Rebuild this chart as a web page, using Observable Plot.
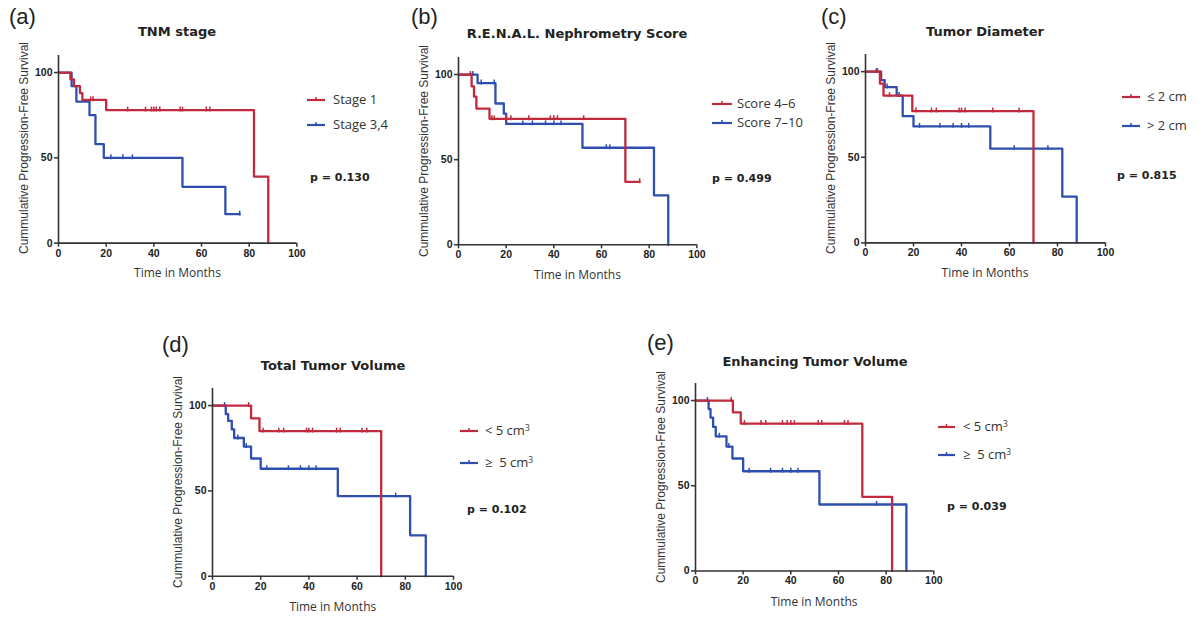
<!DOCTYPE html>
<html><head><meta charset="utf-8">
<script src="https://cdn.jsdelivr.net/npm/d3@7"></script>
<script src="https://cdn.jsdelivr.net/npm/@observablehq/plot@0.6"></script>
<style>
body{margin:0;background:#fff;}
#root{position:relative;width:1204px;height:618px;overflow:hidden;background:#fff;}
.t{position:absolute;white-space:nowrap;line-height:1.2;transform:translateY(-50%);color:#222;}
.letter{font-family:"Liberation Sans",sans-serif;font-size:22px;color:#222;}
.title{font-family:"DejaVu Sans",sans-serif;font-weight:bold;font-size:13px;transform:translate(-50%,-50%);}
.xlab{font-family:"Open Sans",sans-serif;font-size:12px;transform:translate(-50%,-50%);color:#333;}
.ylab{font-family:"Liberation Sans",sans-serif;font-size:12px;transform:translate(-50%,-50%) rotate(-90deg);color:#333;}
.leg{font-family:"Open Sans",sans-serif;font-size:13px;color:#333;}
.pv{font-family:"DejaVu Sans",sans-serif;font-weight:bold;font-size:11px;}
.plot{position:absolute;}
.legsw{position:absolute;}
sup{font-size:0.65em;vertical-align:0.55em;line-height:0;}
</style>
</head><body><div id="root"></div>
<script>
// ---------- DATA ----------
const xTicks = [0, 20, 40, 60, 80, 100];
const yTicks = [0, 50, 100];
const panelLetters = ["(a)", "(b)", "(c)", "(d)", "(e)"];
const panelTitles = ["TNM stage", "R.E.N.A.L. Nephrometry Score", "Tumor Diameter", "Total Tumor Volume", "Enhancing Tumor Volume"];
const pValues = ["p = 0.130", "p = 0.499", "p = 0.815", "p = 0.102", "p = 0.039"];
const xLabel = "Time in Months";
const yLabel = "Cummulative Progression-Free Survival";
const legendRed = ["Stage 1", "Score 4–6", "≤ 2 cm", "< 5 cm<sup>3</sup>", "< 5 cm<sup>3</sup>"];
const legendBlue = ["Stage 3,4", "Score 7–10", "> 2 cm", "≥&nbsp; 5 cm<sup>3</sup>", "≥&nbsp; 5 cm<sup>3</sup>"];

// (a) TNM stage
const aRedTime = [0, 5, 6.5, 9, 10, 20, 82, 88];
const aRedSurv = [100, 96, 92, 88, 84, 78, 39, 0];
const aRedCens = [13.5, 14.5, 29, 36.5, 39, 40, 41, 42.5, 51, 52, 62, 63.5];
const aBlueTime = [0, 5.5, 7.5, 13, 15.5, 19, 52, 70, 76];
const aBlueSurv = [100, 92, 83, 75, 58, 50, 33, 17, 17];
const aBlueCens = [22, 27, 31, 76];
// (b) R.E.N.A.L.
const bRedTime = [0, 5.5, 6.5, 7.5, 13, 70, 76];
const bRedSurv = [100, 93, 87, 80, 74, 37, 37];
const bRedCens = [5, 14, 15, 20, 22, 29.5, 38.5, 40, 41.5, 52.5, 76];
const bBlueTime = [0, 8, 15.5, 19, 20, 52, 82, 88];
const bBlueSurv = [100, 95, 83, 77, 71, 57, 29, 0];
const bBlueCens = [6, 9.5, 15, 27, 31, 36.5, 40, 43, 62, 63.5];
// (c) Tumor diameter
const cRedTime = [0, 6, 7.5, 19.5, 70];
const cRedSurv = [100, 93, 86, 77, 0];
const cRedCens = [5, 10, 21, 27.5, 29.5, 39, 40, 41.5, 53, 64];
const cBlueTime = [0, 6.5, 8, 13, 15.5, 20, 52, 82, 88];
const cBlueSurv = [100, 95, 91, 86, 74, 68, 55, 27, 0];
const cBlueCens = [4.5, 9, 14, 22.5, 31, 36.5, 40, 43, 62, 76];
// (d) Total tumor volume
const dRedTime = [0, 16, 19.5, 70];
const dRedSurv = [100, 92.5, 85, 0];
const dRedCens = [15, 21, 27.5, 29.5, 39, 40, 41.5, 51.5, 53, 62, 64];
const dBlueTime = [0, 5.5, 6.5, 8, 9, 13, 16, 20, 52, 82, 88.5];
const dBlueSurv = [100, 95, 91, 86, 81, 76, 69, 63, 47, 24, 0];
const dBlueCens = [5, 10.5, 14, 22.5, 31.5, 36.5, 40, 43, 76];
// (e) Enhancing tumor volume
const eRedTime = [0, 15.7, 19, 70, 82.5];
const eRedSurv = [100, 93, 86.5, 43.5, 0];
const eRedCens = [15, 20.5, 27.5, 29.5, 36.5, 38.5, 40, 41.5, 51.5, 53, 62.5, 64];
const eBlueTime = [0, 5.5, 6.3, 7.4, 8.5, 13, 15.5, 20, 52, 88.5];
const eBlueSurv = [100, 95, 90, 84.5, 79, 73, 66, 58.5, 39, 0];
const eBlueCens = [5, 10, 14, 22.5, 31.5, 36.5, 40, 43, 76];

// ---------- LAYOUT / STYLE ----------
const RED = "#c12a3c", BLUE = "#2f4fb0", AXIS = "#333";
const layout = [
  {x0: 58.3, x100: 296.7, y0: 242.3, y100: 71.7, letter: [9, 16.5], title: [177, 32], legY: [100, 125], legX: [307, 325, 333], p: [310, 178]},
  {x0: 458.3, x100: 696.7, y0: 244.3, y100: 74, letter: [411, 16.5], title: [577, 34], legY: [104, 123], legX: [712, 732, 737], p: [712, 179]},
  {x0: 865, x100: 1105, y0: 242.3, y100: 71, letter: [821, 16.5], title: [985, 31.5], legY: [97, 126], legX: [1122, 1140, 1147], p: [1117, 176]},
  {x0: 212.3, x100: 453.3, y0: 575.7, y100: 405, letter: [162, 345], title: [333, 366], legY: [431, 463], legX: [460, 478, 485], p: [467, 510]},
  {x0: 695, x100: 933.3, y0: 570.7, y100: 400.3, letter: [647, 343], title: [815, 362], legY: [427, 455], legX: [938, 955, 963], p: [947, 507]}
];
const series = [
  [[aBlueTime, aBlueSurv, aBlueCens], [aRedTime, aRedSurv, aRedCens]],
  [[bBlueTime, bBlueSurv, bBlueCens], [bRedTime, bRedSurv, bRedCens]],
  [[cBlueTime, cBlueSurv, cBlueCens], [cRedTime, cRedSurv, cRedCens]],
  [[dBlueTime, dBlueSurv, dBlueCens], [dRedTime, dRedSurv, dRedCens]],
  [[eBlueTime, eBlueSurv, eBlueCens], [eRedTime, eRedSurv, eRedCens]]
];

const censorSymbol = {
  draw(context, size) {
    const r = Math.sqrt(size / Math.PI);
    context.moveTo(0, -r);
    context.lineTo(0, r * 0.4);
  }
};
function survAt(times, surv, t) {
  let s = surv[0];
  for (let i = 0; i < times.length; i++) if (times[i] <= t) s = surv[i];
  return s;
}

const root = document.getElementById("root");
function addText(cls, html, x, y) {
  const d = document.createElement("div");
  d.className = "t " + cls;
  d.innerHTML = html;
  d.style.left = x + "px";
  d.style.top = y + "px";
  root.appendChild(d);
  return d;
}
function swatch(color, x1, x2, y) {
  const w = x2 - x1;
  const svg = d3.create("svg").attr("width", w).attr("height", 10)
    .attr("class", "legsw").style("left", x1 + "px").style("top", (y - 5) + "px");
  svg.append("line").attr("x1", 0).attr("x2", w).attr("y1", 5).attr("y2", 5)
    .attr("stroke", color).attr("stroke-width", 2.2);
  svg.append("line").attr("x1", w / 2).attr("x2", w / 2).attr("y1", 2).attr("y2", 5)
    .attr("stroke", color).attr("stroke-width", 1.5);
  root.appendChild(svg.node());
}

const ML = 40, MR = 8, MT = 4, MB = 22;
layout.forEach((L, i) => {
  const pw = L.x100 - L.x0;
  const ph = (L.y0 - L.y100) * 1.1;
  const y110 = L.y0 - ph;
  const marks = [];
  const colors = [BLUE, RED];
  series[i].forEach(([T, S, C], k) => {
    const line = T.map((t, j) => ({t, s: S[j]}));
    const cens = C.map(t => ({t, s: survAt(T, S, t)}));
    marks.push(Plot.line(line, {x: "t", y: "s", curve: "step-after", stroke: colors[k], strokeWidth: 2.3}));
    marks.push(Plot.dot(cens, {x: "t", y: "s", symbol: censorSymbol, r: 3.5, stroke: colors[k], strokeWidth: 1.5, fill: "none"}));
  });
  const chart = Plot.plot({
    width: ML + pw + MR,
    height: MT + ph + MB,
    marginLeft: ML, marginRight: MR, marginTop: MT, marginBottom: MB,
    style: {fontFamily: "Liberation Sans, Arial, sans-serif", fontSize: "10.5px", fontWeight: "bold", color: "#222", background: "transparent", overflow: "visible"},
    x: {domain: [0, 100]},
    y: {domain: [0, 110]},
    marks: [
      Plot.axisX({ticks: xTicks, tickSize: 4, tickPadding: 2, tickFormat: d => d, label: null, stroke: AXIS, strokeWidth: 1.5}),
      Plot.axisY({ticks: yTicks, tickSize: 4, tickPadding: 2, tickFormat: d => d, label: null, stroke: AXIS, strokeWidth: 1.5}),
      ...marks,
      Plot.ruleX([0], {y1: 0, y2: 110, stroke: AXIS, strokeWidth: 1.6}),
      Plot.ruleY([0], {x1: 0, x2: 100, stroke: AXIS, strokeWidth: 1.6})
    ]
  });
  const wrap = document.createElement("div");
  wrap.className = "plot";
  wrap.style.left = (L.x0 - ML) + "px";
  wrap.style.top = (y110 - MT) + "px";
  wrap.appendChild(chart);
  root.appendChild(wrap);

  addText("letter", panelLetters[i], L.letter[0], L.letter[1]);
  addText("title", panelTitles[i], L.title[0], L.title[1]);
  addText("xlab", xLabel, (L.x0 + L.x100) / 2, L.y0 + 31);
  addText("ylab", yLabel, L.x0 - 34, (L.y0 + y110) / 2);
  swatch(RED, L.legX[0], L.legX[1], L.legY[0]);
  swatch(BLUE, L.legX[0], L.legX[1], L.legY[1]);
  addText("leg", legendRed[i], L.legX[2], L.legY[0]);
  addText("leg", legendBlue[i], L.legX[2], L.legY[1]);
  addText("pv", pValues[i], L.p[0], L.p[1]);
});
</script>
</body></html>
